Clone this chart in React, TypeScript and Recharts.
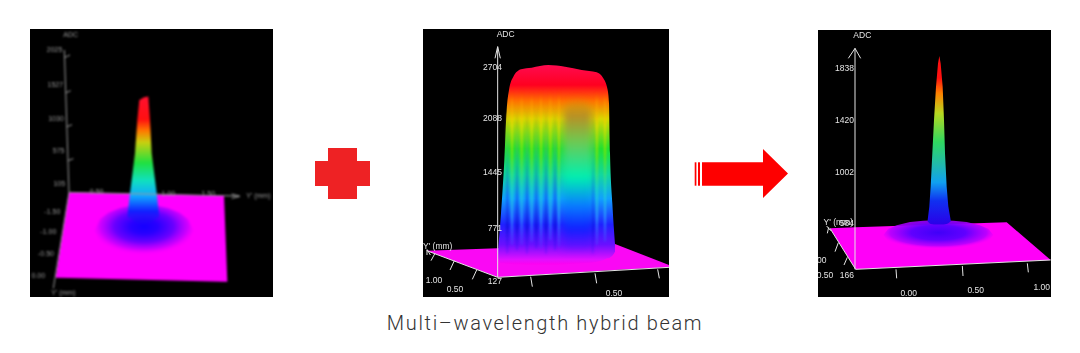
import React from "react";
import { Area, ComposedChart, ReferenceDot, ReferenceLine, XAxis, YAxis } from "recharts";

// x and "view" readings are projected positions on the 3D plot, beam heights are ADC counts

const leftTicks = [2025, 1527, 1030, 575, 105];
const leftBeam = [
  { x: 322, y: [-376, -376] },
  { x: 330, y: [-400, -43] },
  { x: 345, y: [-447, 529] },
  { x: 352, y: [-462, 1005] },
  { x: 358, y: [-471, 1291] },
  { x: 372, y: [-481, 1329] },
  { x: 385, y: [-471, 1340] },
  { x: 390, y: [-462, 1005] },
  { x: 395, y: [-447, 529] },
  { x: 410, y: [-400, -43] },
  { x: 418, y: [-376, -376] },
];
const leftPlane = [
  { x: 107, y: [773, 773] },
  { x: 147, y: [774, 517] },
  { x: 612, y: [785, 527] },
  { x: 622, y: [785, 785] },
];
const leftHalo = [
  { x: 224, y: [632, 632] },
  { x: 240, y: [597, 667] },
  { x: 265, y: [578, 686] },
  { x: 300, y: [564, 700] },
  { x: 340, y: [556, 708] },
  { x: 372, y: [554, 710] },
  { x: 404, y: [556, 708] },
  { x: 444, y: [564, 700] },
  { x: 479, y: [578, 686] },
  { x: 504, y: [597, 667] },
  { x: 520, y: [632, 632] },
];
const leftLines = [
  [147, 517, 133, 90],
  [147, 517, 100, 805],
  [147, 517, 655, 528],
  [635, 522, 660, 529],
  [635, 535, 660, 529],
  [135, 112, 150, 105],
  [138, 218, 152, 212],
  [141, 320, 156, 314],
  [144, 422, 160, 416],
];
const leftLabels: [string, number, number][] = [
  ["ADC", 152, 45],
  ["Y' (mm)", 715, 527],
  ["Y' (mm)", 130, 818],
  ["-1.50", 97, 575],
  ["-1.00", 85, 635],
  ["-0.50", 78, 700],
  ["0.00", 55, 768],
  ["0.50", 230, 515],
  ["1.00", 445, 522],
  ["1.50", 565, 522],
];

const midTicks = [2704, 2088, 1445, 771, 127];
const midBeam = [
  { x: 250, y: [400, 541] },
  { x: 258, y: [340, 943] },
  { x: 268, y: [340, 1586] },
  { x: 275, y: [335, 2189] },
  { x: 282, y: [335, 2431] },
  { x: 295, y: [330, 2591] },
  { x: 318, y: [330, 2680] },
  { x: 350, y: [325, 2700] },
  { x: 400, y: [325, 2732] },
  { x: 450, y: [330, 2712] },
  { x: 500, y: [340, 2672] },
  { x: 545, y: [360, 2644] },
  { x: 565, y: [380, 2571] },
  { x: 578, y: [400, 2431] },
  { x: 582, y: [400, 2270] },
  { x: 585, y: [410, 1667] },
  { x: 592, y: [430, 1064] },
  { x: 600, y: [480, 573] },
];
const midWarmStreaks = [
  { x: 288, y: [560, 2400] },
  { x: 294, y: [560, 2400] },
  { x: null, y: null },
  { x: 317, y: [560, 2420] },
  { x: 323, y: [560, 2420] },
  { x: null, y: null },
  { x: 347, y: [600, 2380] },
  { x: 353, y: [600, 2380] },
  { x: null, y: null },
  { x: 375, y: [520, 2420] },
  { x: 381, y: [520, 2420] },
  { x: null, y: null },
  { x: 403, y: [620, 2400] },
  { x: 409, y: [620, 2400] },
  { x: null, y: null },
  { x: 429, y: [540, 2420] },
  { x: 435, y: [540, 2420] },
  { x: null, y: null },
  { x: 542, y: [560, 2400] },
  { x: 549, y: [560, 2400] },
  { x: null, y: null },
  { x: 567, y: [600, 2380] },
  { x: 573, y: [600, 2380] },
];
const midCoolStreaks = [
  { x: 274, y: [460, 2150] },
  { x: 280, y: [460, 2150] },
  { x: null, y: null },
  { x: 303, y: [500, 2200] },
  { x: 309, y: [500, 2200] },
  { x: null, y: null },
  { x: 333, y: [460, 2200] },
  { x: 339, y: [460, 2200] },
  { x: null, y: null },
  { x: 361, y: [520, 2200] },
  { x: 367, y: [520, 2200] },
  { x: null, y: null },
  { x: 390, y: [460, 2200] },
  { x: 396, y: [460, 2200] },
  { x: null, y: null },
  { x: 417, y: [500, 2200] },
  { x: 423, y: [500, 2200] },
  { x: null, y: null },
  { x: 530, y: [460, 2150] },
  { x: 536, y: [460, 2150] },
];
const midCore = [
  { x: 446, y: [500, 2200] },
  { x: 486, y: [500, 2330] },
  { x: 530, y: [500, 2200] },
];
const midPlane = [
  { x: 35, y: [692, 692] },
  { x: 248, y: [772, 685] },
  { x: 600, y: [750, 672] },
  { x: 762, y: [742, 735] },
];
const midLines = [
  [248, 772, 248, 80],
  [248, 80, 240, 115],
  [248, 80, 256, 115],
  [35, 692, 248, 772],
  [248, 772, 762, 742],
  [60, 700, 48, 722],
  [118, 722, 105, 750],
  [185, 750, 172, 778],
  [347, 770, 352, 800],
  [540, 760, 545, 790],
  [728, 748, 733, 775],
  [36, 688, 46, 705],
  [36, 705, 36, 690],
];
const midLabels: [string, number, number][] = [
  ["ADC", 272, 43],
  ["Y' (mm)", 68, 678],
  ["1.00", 57, 780],
  ["0.50", 120, 808],
  ["0.50", 597, 819],
];

const rightTicks = [1838, 1420, 1002, 584, 166];
const rightBeam = [
  { x: 353, y: [600, 612] },
  { x: 358, y: [585, 720] },
  { x: 362, y: [580, 881] },
  { x: 367, y: [578, 1151] },
  { x: 372, y: [576, 1420] },
  { x: 378, y: [575, 1690] },
  { x: 384, y: [575, 1878] },
  { x: 388, y: [575, 1938] },
  { x: 392, y: [575, 1878] },
  { x: 398, y: [575, 1690] },
  { x: 402, y: [576, 1420] },
  { x: 405, y: [578, 1151] },
  { x: 410, y: [580, 881] },
  { x: 415, y: [585, 720] },
  { x: 422, y: [600, 612] },
];
const rightPlane = [
  { x: 60, y: [625, 625] },
  { x: 137, y: [748, 622] },
  { x: 590, y: [726, 607] },
  { x: 722, y: [720, 720] },
];
const rightHalo = [
  { x: 220, y: [645, 645] },
  { x: 235, y: [626, 664] },
  { x: 260, y: [616, 674] },
  { x: 300, y: [606, 684] },
  { x: 340, y: [602, 688] },
  { x: 385, y: [600, 690] },
  { x: 430, y: [602, 688] },
  { x: 470, y: [606, 684] },
  { x: 510, y: [616, 674] },
  { x: 535, y: [626, 664] },
  { x: 550, y: [645, 645] },
];
const rightLines = [
  [135, 748, 135, 85],
  [135, 85, 115, 115],
  [135, 85, 152, 115],
  [60, 625, 137, 748],
  [137, 748, 722, 720],
  [258, 748, 260, 775],
  [457, 738, 459, 768],
  [652, 730, 655, 757],
  [85, 668, 75, 695],
  [112, 712, 102, 735],
  [50, 618, 62, 632],
  [52, 640, 56, 622],
];
const rightLabels: [string, number, number][] = [
  ["ADC", 157, 45],
  ["Y' (mm)", 85, 605],
  ["00", 35, 720],
  ["0.50", 45, 765],
  ["0.00", 296, 820],
  ["0.50", 497, 810],
  ["1.00", 695, 800],
];

type Stop = [number, string, number?];

const leftBeamStops: Stop[] = [
  [0, "#ff1030"], [0.18, "#ff1010"], [0.27, "#ff7a00"], [0.36, "#c8d010"], [0.52, "#20e040"],
  [0.66, "#10e0c0"], [0.78, "#10a8ff"], [0.9, "#1020ff"], [1, "#1810f0", 0.2],
];
const midBeamStops: Stop[] = [
  [0, "#ff0a50"], [0.1, "#ff0020"], [0.18, "#ff7000"], [0.27, "#d8d800"], [0.42, "#20e030"],
  [0.55, "#10d8a0"], [0.67, "#10a0ff"], [0.8, "#2020ff"], [0.9, "#6a10ff"], [0.975, "#e010ff"], [1, "#ff00f0"],
];
const midWarmStops: Stop[] = [
  [0, "#ff3000", 0.2], [0.07, "#ff9000"], [0.22, "#f0e000"], [0.42, "#80e800"], [0.62, "#20e0c0"], [0.8, "#30b0ff"], [1, "#5040ff", 0.4],
];
const midCoolStops: Stop[] = [
  [0, "#f08000", 0.2], [0.15, "#80d020"], [0.38, "#10b090"], [0.6, "#1050f0"], [0.82, "#0808d0"], [1, "#4810ff", 0.4],
];
const midCoreStops: Stop[] = [
  [0, "#c88a10", 0], [0.1, "#c08a20", 1], [0.28, "#70c850"], [0.52, "#00f0b0"],
  [0.7, "#0880ff"], [0.86, "#1020ff"], [1, "#6010ff", 0.3],
];
const rightBeamStops: Stop[] = [
  [0, "#ff1010"], [0.13, "#ff1010"], [0.22, "#ff8000"], [0.34, "#b8d820"], [0.51, "#30d860"],
  [0.65, "#20b8b0"], [0.75, "#10a0f0"], [0.86, "#1030f0"], [1, "#2a00e8"],
];
const leftHaloStops: Stop[] = [
  [0, "#1400ff"], [0.25, "#2800ff"], [0.55, "#6a00ff"], [0.8, "#c000ff", 0.8], [1, "#ff00ff", 0],
];
const rightHaloStops: Stop[] = [
  [0, "#4000f8"], [0.45, "#6000ff"], [0.8, "#b000ff", 0.85], [1, "#ff00ff", 0],
];

function Gradient({ id, stops }: { id: string; stops: Stop[] }) {
  return (
    <linearGradient id={id} x1="0" y1="0" x2="0" y2="1">
      {stops.map(([offset, color, opacity], i) => (
        <stop key={i} offset={offset} stopColor={color} stopOpacity={opacity ?? 1} />
      ))}
    </linearGradient>
  );
}

function Halo({ id, stops }: { id: string; stops: Stop[] }) {
  return (
    <radialGradient id={id} cx="0.5" cy="0.42" r="0.55">
      {stops.map(([offset, color, opacity], i) => (
        <stop key={i} offset={offset} stopColor={color} stopOpacity={opacity ?? 1} />
      ))}
    </radialGradient>
  );
}

interface PanelProps {
  left: number;
  top: number;
  width: number;
  height: number;
  xDomain: [number, number];
  adcDomain: [number, number];
  viewDomain: [number, number];
  ticks: number[];
  tickRight: number;
  tickLean?: number;
  ink: string;
  fontSize: number;
  blur: number;
  plane: any[];
  planeFill: string;
  beam: any[];
  beamFill: string;
  beamCurve?: "linear" | "monotone";
  halo?: any[];
  haloFill?: string;
  lines: number[][];
  labels: [string, number, number][];
  defs: React.ReactNode;
  extras?: React.ReactNode;
}

function Panel(p: PanelProps) {
  const renderTick = ({ y, payload }: any) => (
    <text
      x={p.tickRight + y * (p.tickLean ?? 0)}
      y={y + 3}
      textAnchor="end"
      fill={p.ink}
      fontSize={p.fontSize}
      fontFamily="Liberation Sans"
    >
      {payload.value}
    </text>
  );
  return (
    <div style={{ position: "absolute", left: p.left, top: p.top, width: p.width, height: p.height, background: "#000", overflow: "hidden" }}>
      <div style={{ filter: `blur(${p.blur}px)` }}>
        <ComposedChart width={p.width} height={p.height} margin={{ top: 0, right: 0, bottom: 0, left: 0 }}>
          <defs>{p.defs}</defs>
          <XAxis dataKey="x" type="number" domain={p.xDomain} hide allowDataOverflow />
          <YAxis yAxisId="adc" mirror width={60} domain={p.adcDomain} ticks={p.ticks} interval={0} axisLine={false} tickLine={false} tick={renderTick} allowDataOverflow />
          <YAxis yAxisId="view" domain={p.viewDomain} reversed hide width={0} allowDataOverflow />
          <Area yAxisId="view" data={p.plane} dataKey="y" type="linear" fill={p.planeFill} fillOpacity={1} stroke="none" isAnimationActive={false} dot={false} activeDot={false} />
          {p.halo && (
            <Area yAxisId="view" data={p.halo} dataKey="y" type="linear" fill={p.haloFill} fillOpacity={1} stroke="none" isAnimationActive={false} dot={false} activeDot={false} />
          )}
          <Area yAxisId="adc" data={p.beam} dataKey="y" type={p.beamCurve ?? "linear"} fill={p.beamFill} fillOpacity={1} stroke="none" isAnimationActive={false} dot={false} activeDot={false} />
          {p.extras}
          {p.lines.map(([x1, y1, x2, y2], i) => (
            <ReferenceLine
              key={i}
              yAxisId="view"
              segment={[{ x: x1, y: y1 }, { x: x2, y: y2 }]}
              stroke={p.ink}
              strokeWidth={1}
              ifOverflow="visible"
            />
          ))}
          {p.labels.map(([text, x, y], i) => (
            <ReferenceDot
              key={i}
              yAxisId="view"
              x={x}
              y={y}
              r={0}
              stroke="none"
              ifOverflow="visible"
              label={{ value: text, position: "center", fill: p.ink, fontSize: p.fontSize, fontFamily: "Liberation Sans" }}
            />
          ))}
        </ComposedChart>
      </div>
    </div>
  );
}

function Streak({ data, fill, opacity }: { data: any[]; fill: string; opacity: number }) {
  return (
    <Area
      yAxisId="adc"
      data={data}
      dataKey="y"
      type="linear"
      className="soft"
      fill={fill}
      fillOpacity={opacity}
      stroke="none"
      isAnimationActive={false}
      dot={false}
      activeDot={false}
    />
  );
}

export default function App() {
  return (
    <div style={{ position: "absolute", left: 0, top: 0, width: 1080, height: 353, background: "#fff", overflow: "hidden" }}>
      <style>{`.soft { filter: blur(1.1px); } .soft-wide { filter: blur(3.5px); }`}</style>

      <Panel
        left={30}
        top={29}
        width={243}
        height={268}
        xDomain={[30, 759]}
        adcDomain={[-1524, 2306]}
        viewDomain={[27, 831]}
        ticks={leftTicks}
        tickRight={32}
        tickLean={0.02}
        ink="#9a9a9a"
        fontSize={7}
        blur={0.8}
        plane={leftPlane}
        planeFill="#ff00ff"
        beam={leftBeam}
        beamFill="url(#leftBeam)"
        halo={leftHalo}
        haloFill="url(#leftHalo)"
        lines={leftLines}
        labels={leftLabels}
        defs={
          <>
            <Gradient id="leftBeam" stops={leftBeamStops} />
            <Halo id="leftHalo" stops={leftHaloStops} />
          </>
        }
      />

      <Panel
        left={423}
        top={29}
        width={246}
        height={268}
        xDomain={[24, 762]}
        adcDomain={[-66, 3166]}
        viewDomain={[27, 831]}
        ticks={midTicks}
        tickRight={79}
        ink="#e4e4e4"
        fontSize={8.5}
        blur={0.5}
        plane={midPlane}
        planeFill="#fa08f4"
        beam={midBeam}
        beamFill="url(#midBeam)"
        beamCurve="monotone"
        lines={midLines}
        labels={midLabels}
        defs={
          <>
            <Gradient id="midBeam" stops={midBeamStops} />
            <Gradient id="midWarm" stops={midWarmStops} />
            <Gradient id="midCool" stops={midCoolStops} />
            <Gradient id="midCore" stops={midCoreStops} />
          </>
        }
        extras={
          <>
            <Streak data={midWarmStreaks} fill="url(#midWarm)" opacity={0.75} />
            <Streak data={midCoolStreaks} fill="url(#midCool)" opacity={0.75} />
            <Area yAxisId="adc" data={midCore} dataKey="y" type="monotone" className="soft-wide" fill="url(#midCore)" fillOpacity={1} stroke="none" isAnimationActive={false} dot={false} activeDot={false} />
          </>
        }
      />

      <Panel
        left={818}
        top={30}
        width={233}
        height={267}
        xDomain={[24, 723]}
        adcDomain={[-11, 2148]}
        viewDomain={[30, 831]}
        ticks={rightTicks}
        tickRight={36}
        ink="#e4e4e4"
        fontSize={8.5}
        blur={0.5}
        plane={rightPlane}
        planeFill="#ff00f8"
        beam={rightBeam}
        beamFill="url(#rightBeam)"
        halo={rightHalo}
        haloFill="url(#rightHalo)"
        lines={rightLines}
        labels={rightLabels}
        defs={
          <>
            <Gradient id="rightBeam" stops={rightBeamStops} />
            <Halo id="rightHalo" stops={rightHaloStops} />
          </>
        }
      />

      {/* plus sign and arrow between the plots */}
      <svg width={1080} height={353} style={{ position: "absolute", left: 0, top: 0, pointerEvents: "none" }}>
        <path d="M328 148H357V161H370V186H357V199H328V186H315V161H328Z" fill="#ee2224" />
        <rect x={694.7} y={162.3} width={1.7} height={23.4} fill="#fe0000" />
        <rect x={698} y={162.3} width={2} height={23.4} fill="#fe0000" />
        <path d="M702 162.3H763V149L788 173.5L763 198V185.7H702Z" fill="#fe0000" />
      </svg>

      <div
        style={{
          position: "absolute",
          left: 345,
          width: 400,
          top: 311,
          textAlign: "center",
          fontFamily: "Roboto",
          fontWeight: 300,
          fontSize: 20,
          letterSpacing: 1.65,
          color: "#333",
          whiteSpace: "nowrap",
        }}
      >
        Multi–wavelength hybrid beam
      </div>
    </div>
  );
}
